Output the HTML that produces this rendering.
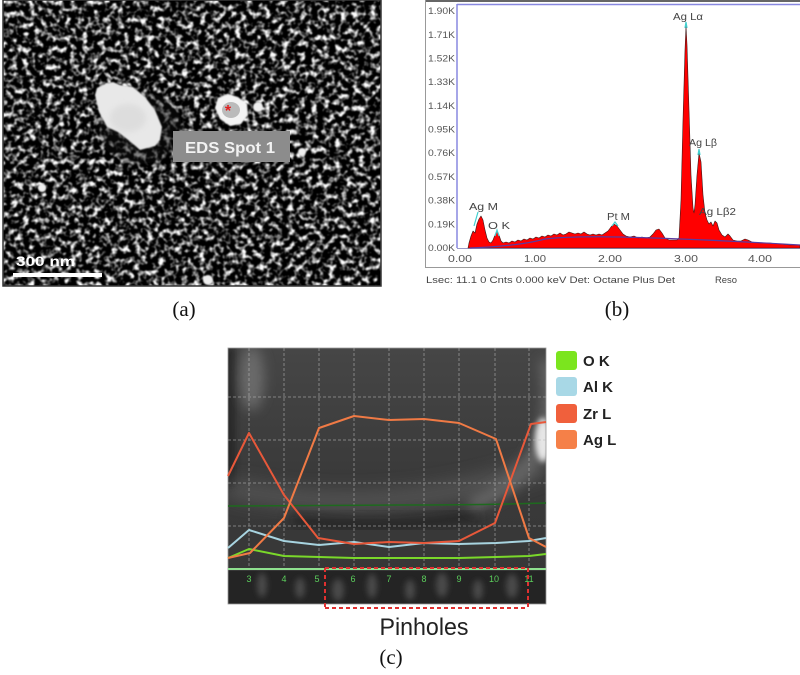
<!DOCTYPE html>
<html><head><meta charset="utf-8"><style>
html,body{margin:0;padding:0;background:#fff;}
svg{display:block;}
</style></head><body>
<svg width="800" height="675" viewBox="0 0 800 675" xmlns="http://www.w3.org/2000/svg">
<defs>
<filter id="sem" x="0" y="0" width="1" height="1" color-interpolation-filters="sRGB">
<feTurbulence type="fractalNoise" baseFrequency="0.17" numOctaves="2" seed="5"/>
<feColorMatrix type="matrix" values="3.4 0 0 0 -1.55  3.4 0 0 0 -1.55  3.4 0 0 0 -1.55  0 0 0 0 1"/>
<feGaussianBlur stdDeviation="0.6"/>
</filter>
<filter id="b1" x="-20%" y="-20%" width="140%" height="140%"><feGaussianBlur stdDeviation="0.8"/></filter>
<filter id="b3" x="-50%" y="-50%" width="200%" height="200%"><feGaussianBlur stdDeviation="3"/></filter>
<filter id="b6" x="-50%" y="-50%" width="200%" height="200%"><feGaussianBlur stdDeviation="6"/></filter>
<filter id="b9" x="-50%" y="-50%" width="200%" height="200%"><feGaussianBlur stdDeviation="9"/></filter>
<clipPath id="ca"><rect x="3" y="0" width="378" height="286"/></clipPath>
<clipPath id="cc"><rect x="228" y="348" width="318" height="256"/></clipPath>
<linearGradient id="cg" x1="0" y1="0" x2="0" y2="1">
<stop offset="0" stop-color="#464646"/><stop offset="0.5" stop-color="#3a3a3a"/><stop offset="1" stop-color="#363636"/>
</linearGradient>
</defs>

<!-- ========== Panel (a) SEM ========== -->
<g clip-path="url(#ca)">
<rect x="3" y="0" width="378" height="286" fill="#444" filter="url(#sem)"/>
<ellipse cx="140" cy="128" rx="42" ry="36" fill="#0a0a0a" opacity="0.55" filter="url(#b6)"/>
<path d="M97,88 L105,84 L113,82 L120,85 L133,87 L145,97 L155,110 L162,127 L160,140 L155,146 L140,150 L132,143 L118,132 L107,127 L99,112 L95,95 Z" fill="#e8e8e8" filter="url(#b1)"/>
<ellipse cx="128" cy="118" rx="18" ry="14" fill="#d6d6d6" opacity="0.6" filter="url(#b3)"/>
<path d="M218,98 L228,94 L238,97 L247,104 L248,115 L241,124 L230,126 L220,119 L215,108 Z" fill="#f4f4f4" filter="url(#b1)"/>
<ellipse cx="231" cy="110" rx="9" ry="8" fill="#bbb"/>
<text x="228" y="116" font-family="Liberation Sans, sans-serif" font-size="16" font-weight="bold" fill="#e02020" text-anchor="middle">*</text>
<circle cx="258" cy="107" r="5" fill="#eee" filter="url(#b1)"/>
<circle cx="42" cy="188" r="4" fill="#eee" filter="url(#b1)"/>
<circle cx="208" cy="280" r="5" fill="#eee" filter="url(#b1)"/>
<circle cx="302" cy="152" r="4" fill="#eee" filter="url(#b1)"/>
<rect x="173" y="131" width="117" height="31" fill="#8c8c8c"/>
<text x="185" y="153" font-family="Liberation Sans, sans-serif" font-size="16" font-weight="bold" fill="#f2f2f2" textLength="90" lengthAdjust="spacingAndGlyphs">EDS Spot 1</text>
<text x="16" y="266" font-family="Liberation Sans, sans-serif" font-size="14" font-weight="bold" fill="#fff" textLength="59" lengthAdjust="spacingAndGlyphs">300 nm</text>
<rect x="13" y="273" width="89" height="4" fill="#fff"/>
</g>
<rect x="3" y="0" width="378" height="286" fill="none" stroke="#333" stroke-width="1.5"/>
<text x="184" y="316" font-family="Liberation Serif, serif" font-size="21" fill="#111" text-anchor="middle">(a)</text>

<!-- ========== Panel (b) EDS spectrum ========== -->
<rect x="425" y="0" width="375" height="2" fill="#666"/>
<line x1="425.5" y1="0" x2="425.5" y2="267" stroke="#999" stroke-width="1"/>
<line x1="425" y1="267.5" x2="800" y2="267.5" stroke="#999" stroke-width="1"/>
<line x1="457" y1="4" x2="457" y2="248" stroke="#8888e0" stroke-width="1.5"/>
<line x1="457" y1="4.5" x2="800" y2="4.5" stroke="#8888e0" stroke-width="1.5"/>
<line x1="457" y1="248.5" x2="800" y2="248.5" stroke="#9a9ac8" stroke-width="1"/>
<g font-family="Liberation Sans, sans-serif" font-size="9" fill="#555" text-anchor="end">
<text x="455" y="14" textLength="27" lengthAdjust="spacingAndGlyphs">1.90K</text>
<text x="455" y="38" textLength="27" lengthAdjust="spacingAndGlyphs">1.71K</text>
<text x="455" y="61.5" textLength="27" lengthAdjust="spacingAndGlyphs">1.52K</text>
<text x="455" y="85" textLength="27" lengthAdjust="spacingAndGlyphs">1.33K</text>
<text x="455" y="109" textLength="27" lengthAdjust="spacingAndGlyphs">1.14K</text>
<text x="455" y="132.5" textLength="27" lengthAdjust="spacingAndGlyphs">0.95K</text>
<text x="455" y="156" textLength="27" lengthAdjust="spacingAndGlyphs">0.76K</text>
<text x="455" y="180" textLength="27" lengthAdjust="spacingAndGlyphs">0.57K</text>
<text x="455" y="203.5" textLength="27" lengthAdjust="spacingAndGlyphs">0.38K</text>
<text x="455" y="227.5" textLength="27" lengthAdjust="spacingAndGlyphs">0.19K</text>
<text x="455" y="251" textLength="27" lengthAdjust="spacingAndGlyphs">0.00K</text>
</g>
<g font-family="Liberation Sans, sans-serif" font-size="10" fill="#555" text-anchor="middle">
<text x="460" y="262" textLength="24" lengthAdjust="spacingAndGlyphs">0.00</text>
<text x="535" y="262" textLength="22" lengthAdjust="spacingAndGlyphs">1.00</text>
<text x="610" y="262" textLength="24" lengthAdjust="spacingAndGlyphs">2.00</text>
<text x="686" y="262" textLength="24" lengthAdjust="spacingAndGlyphs">3.00</text>
<text x="760" y="262" textLength="24" lengthAdjust="spacingAndGlyphs">4.00</text>
</g>
<polygon fill="#ff0000" stroke="#3a1a1a" stroke-width="0.6" stroke-linejoin="round" points="468,248 469,243 471,236 473,231 475,233 477,224 479,219 481,216 483,220 485,230 487,238 489,242 491,243 493,240 495,235 497,231 499,235 501,241 503,243 506,242 509,243 512,241 515,242 518,240 521,241 524,239 527,240 530,238 533,239 536,237 539,238 542,236 545,237 548,235 551,236 554,234 557,235 560,233 563,235 566,234 569,232 572,233 575,234 578,233 581,234 584,232 587,234 590,235 593,234 596,235 599,234 602,235 605,233 608,231 611,227 614,224 617,226 620,230 623,234 626,236 630,237 634,236 638,238 642,237 646,238 650,237 653,234 656,230 659,229 662,233 665,238 669,240 673,240 677,240 679,238 681,200 683,120 685,50 686,26 687,45 689,110 691,175 693,208 694,213 695,205 697,175 699,153 701,162 703,195 705,213 707,220 709,224 711,222 713,226 715,221 717,223 719,230 722,235 725,237 728,234 730,236 733,240 737,241 741,241 745,239 748,240 752,242 760,243 770,243 780,244 790,245 800,245 800,248"/>
<path d="M470,248 Q520,246 545,239 Q570,236 620,237 Q700,239 800,245" fill="none" stroke="#5b3aa0" stroke-width="1.2"/>
<g stroke="#40d0d0" stroke-width="1.2" fill="none">
<path d="M474,226 L478,212"/><path d="M495,236 L497,230 L499,236"/><path d="M612,226 L615,222 L618,226"/><path d="M685,28 L686,22 L687,28"/><path d="M698,155 L699,149 L700,155"/>
</g>
<g font-family="Liberation Sans, sans-serif" font-size="10" fill="#444">
<text x="673" y="20" textLength="30" lengthAdjust="spacingAndGlyphs">Ag Lα</text>
<text x="689" y="146" textLength="28" lengthAdjust="spacingAndGlyphs">Ag Lβ</text>
<text x="699" y="215" textLength="37" lengthAdjust="spacingAndGlyphs">Ag Lβ2</text>
<text x="607" y="220" textLength="23" lengthAdjust="spacingAndGlyphs">Pt M</text>
<text x="469" y="210" textLength="29" lengthAdjust="spacingAndGlyphs">Ag M</text>
<text x="488" y="229" textLength="22" lengthAdjust="spacingAndGlyphs">O  K</text>
</g>
<g font-family="Liberation Sans, sans-serif" font-size="9.5" fill="#444">
<text x="426" y="283" textLength="249" lengthAdjust="spacingAndGlyphs">Lsec: 11.1 0 Cnts  0.000 keV Det: Octane Plus Det</text>
<text x="715" y="283" textLength="22" lengthAdjust="spacingAndGlyphs">Reso</text>
</g>
<text x="617" y="316" font-family="Liberation Serif, serif" font-size="21" fill="#111" text-anchor="middle">(b)</text>

<!-- ========== Panel (c) line scan ========== -->
<g clip-path="url(#cc)">
<rect x="228" y="348" width="318" height="256" fill="url(#cg)"/>
<rect x="222" y="348" width="14" height="140" fill="#1e1e1e" opacity="0.6" filter="url(#b3)"/>
<ellipse cx="252" cy="378" rx="12" ry="32" fill="#6a6a6a" filter="url(#b6)"/>
<path d="M228,488 Q390,522 546,465" fill="none" stroke="#555" stroke-width="18" filter="url(#b9)"/>
<path d="M290,520 Q390,532 480,515" fill="none" stroke="#1a1a1a" stroke-width="16" opacity="0.5" filter="url(#b6)"/>
<path d="M546,360 Q565,470 470,505" fill="none" stroke="#666" stroke-width="14" filter="url(#b6)"/>
<ellipse cx="543" cy="440" rx="8" ry="22" fill="#e6e6e6" filter="url(#b3)"/>
<rect x="228" y="571" width="318" height="33" fill="#242424"/>
<g fill="#4a4a4a" filter="url(#b3)">
<ellipse cx="262" cy="585" rx="5" ry="12"/><ellipse cx="300" cy="588" rx="5" ry="10"/>
<ellipse cx="338" cy="590" rx="6" ry="11"/><ellipse cx="372" cy="586" rx="5" ry="12"/>
<ellipse cx="410" cy="590" rx="5" ry="10"/><ellipse cx="442" cy="585" rx="6" ry="12"/>
<ellipse cx="478" cy="590" rx="5" ry="10"/><ellipse cx="512" cy="586" rx="6" ry="12"/>
</g>
</g>
<rect x="228" y="348" width="318" height="256" fill="none" stroke="#999" stroke-width="0.8"/>
<g stroke="#bbb" stroke-width="1" stroke-dasharray="3 2" opacity="0.55">
<line x1="249" y1="348" x2="249" y2="568"/><line x1="284" y1="348" x2="284" y2="568"/>
<line x1="319" y1="348" x2="319" y2="568"/><line x1="354" y1="348" x2="354" y2="568"/>
<line x1="389" y1="348" x2="389" y2="568"/><line x1="424" y1="348" x2="424" y2="568"/>
<line x1="459" y1="348" x2="459" y2="568"/><line x1="495" y1="348" x2="495" y2="568"/>
<line x1="529" y1="348" x2="529" y2="568"/>
<line x1="228" y1="397" x2="546" y2="397"/><line x1="228" y1="440" x2="546" y2="440"/>
<line x1="228" y1="483" x2="546" y2="483"/><line x1="228" y1="526" x2="546" y2="526"/>
</g>
<path d="M228,506 L400,505 Q480,505 546,503" fill="none" stroke="#1e6a1e" stroke-width="1.5"/>
<line x1="228" y1="569" x2="546" y2="569" stroke="#8fe08f" stroke-width="2"/>
<g font-family="Liberation Sans, sans-serif" font-size="9" fill="#5ccf5c" text-anchor="middle">
<text x="249" y="582">3</text><text x="284" y="582">4</text><text x="317" y="582">5</text>
<text x="353" y="582">6</text><text x="389" y="582">7</text><text x="424" y="582">8</text>
<text x="459" y="582">9</text><text x="494" y="582">10</text><text x="529" y="582">11</text>
</g>
<g fill="none" stroke-width="2" stroke-linejoin="round">
<polyline stroke="#7ad82a" points="228,558 249,549 284,556 319,557 354,558 389,558 424,558 459,558 496,557 529,556 546,554"/>
<polyline stroke="#a8d4e0" points="228,548 249,530 284,541 319,545 354,542 389,547 424,543 459,544 496,543 529,541 546,538"/>
<polyline stroke="#e8583a" points="228,476 249,433 284,495 318,538 354,544 389,542 424,543 459,541 495,523 531,424 546,422"/>
<polyline stroke="#f07a45" points="228,558 250,553 284,518 319,428 354,416 389,420 424,419 459,423 496,439 529,538 546,547"/>
</g>
<g fill="none" stroke="#e03030" stroke-width="2" stroke-dasharray="4 3">
<line x1="325" y1="568" x2="528" y2="568"/>
<line x1="325" y1="568" x2="325" y2="608"/>
<line x1="528" y1="568" x2="528" y2="608"/>
<line x1="325" y1="608" x2="528" y2="608"/>
</g>
<rect x="556" y="351" width="21" height="19" rx="3" fill="#7be51e"/>
<rect x="556" y="377" width="21" height="19" rx="3" fill="#a8d8e6"/>
<rect x="556" y="404" width="21" height="19" rx="3" fill="#f0603c"/>
<rect x="556" y="430" width="21" height="19" rx="3" fill="#f58048"/>
<g font-family="Liberation Sans, sans-serif" font-size="15" font-weight="bold" fill="#222">
<text x="583" y="366">O  K</text>
<text x="583" y="392">Al K</text>
<text x="583" y="419">Zr L</text>
<text x="583" y="445">Ag L</text>
</g>
<text x="424" y="635" font-family="Liberation Sans, sans-serif" font-size="24" fill="#222" text-anchor="middle" textLength="89" lengthAdjust="spacingAndGlyphs">Pinholes</text>
<text x="391" y="664" font-family="Liberation Serif, serif" font-size="21" fill="#111" text-anchor="middle">(c)</text>
</svg>
</body></html>
